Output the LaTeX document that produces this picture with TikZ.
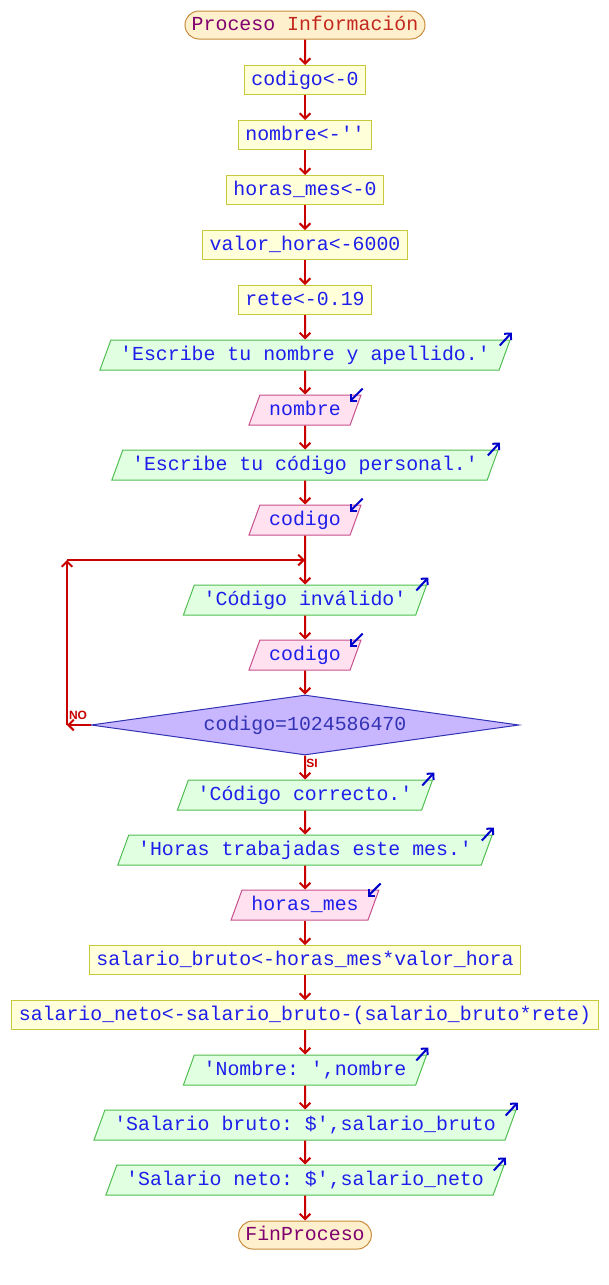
\documentclass[tikz,border=0pt]{standalone}
\usepackage{fontspec}
\setmonofont{Liberation Mono}
\setsansfont{Liberation Sans}
\usetikzlibrary{shapes.geometric,shapes.misc,arrows.meta}
\definecolor{txt}{RGB}{30,30,235}
\definecolor{flecha}{RGB}{200,0,0}
\definecolor{marcab}{RGB}{0,0,205}
\definecolor{procf}{RGB}{255,255,218}
\definecolor{procb}{RGB}{200,200,60}
\definecolor{outf}{RGB}{225,255,225}
\definecolor{outb}{RGB}{80,190,80}
\definecolor{inf}{RGB}{255,225,240}
\definecolor{inb}{RGB}{200,80,140}
\definecolor{decf}{RGB}{200,182,255}
\definecolor{decb}{RGB}{50,50,180}
\definecolor{termf}{RGB}{255,240,205}
\definecolor{termb}{RGB}{200,140,60}
\definecolor{morado}{RGB}{128,0,110}
\definecolor{rojizo}{RGB}{195,40,30}
\begin{document}
\begin{tikzpicture}[x=0.75pt, y=-0.75pt,
  every node/.style={font=\ttfamily\fontsize{14.9}{16}\selectfont, text=txt, text height=10.5pt, text depth=2pt},
  proc/.style={rectangle, draw=procb, fill=procf, line width=0.75pt, minimum height=21.75pt, inner xsep=5.25pt, inner ysep=0pt},
  salida/.style={trapezium, trapezium left angle=70, trapezium right angle=110, draw=outb, fill=outf, line width=0.75pt, inner xsep=7pt, inner ysep=5pt},
  entrada/.style={trapezium, trapezium left angle=70, trapezium right angle=110, draw=inb, fill=inf, line width=0.75pt, inner xsep=7pt, inner ysep=5pt},
  decision/.style={diamond, aspect=7, draw=decb, fill=decf, line width=0.75pt, minimum width=321pt, minimum height=45pt, inner sep=0pt, text=decb},
  term/.style={rounded rectangle, draw=termb, fill=termf, line width=0.75pt, minimum height=21pt, inner xsep=3pt, inner ysep=0pt, text=morado},
  flujo/.style={draw=flecha, line width=1.5pt, -{Straight Barb[length=4pt, width=8pt]}},
  marca/.style={draw=marcab, line width=1.5pt, -{Straight Barb[length=3.5pt, width=7pt]}},
  rama/.style={font=\sffamily\bfseries\fontsize{9}{9}\selectfont, text=flecha, inner sep=0pt, text height=, text depth=}]
  \fill[white] (0,0) rectangle (608,1285);
  \useasboundingbox (0,0) rectangle (608,1285);
  \node[term] (ini) at (305,25) {Proceso \textcolor{rojizo}{Información}};
  \node[proc] (cod0) at (305,80) {codigo<-0};
  \node[proc] (nom0) at (305,135) {nombre<-''};
  \node[proc] (hor0) at (305,190) {horas\_mes<-0};
  \node[proc] (val0) at (305,245) {valor\_hora<-6000};
  \node[proc] (ret0) at (305,300) {rete<-0.19};
  \node[salida] (msg1) at (305,355) {'Escribe tu nombre y apellido.'};
  \node[entrada] (inNom) at (305,410) {nombre};
  \node[salida] (msg2) at (305,465) {'Escribe tu código personal.'};
  \node[entrada] (inCod1) at (305,520) {codigo};
  \node[salida] (msgInv) at (305,600) {'Código inválido'};
  \node[entrada] (inCod2) at (305,655) {codigo};
  \node[decision] (cond) at (305,725) {codigo=1024586470};
  \node[salida] (msgOk) at (305,795) {'Código correcto.'};
  \node[salida] (msg3) at (305,850) {'Horas trabajadas este mes.'};
  \node[entrada] (inHor) at (305,905) {horas\_mes};
  \node[proc] (calcB) at (305,960) {salario\_bruto<-horas\_mes*valor\_hora};
  \node[proc] (calcN) at (305,1015) {salario\_neto<-salario\_bruto-(salario\_bruto*rete)};
  \node[salida] (outNom) at (305,1070) {'Nombre: ',nombre};
  \node[salida] (outB) at (305,1125) {'Salario bruto: \$',salario\_bruto};
  \node[salida] (outN) at (305,1180) {'Salario neto: \$',salario\_neto};
  \node[term] (fin) at (305,1235) {FinProceso};
  \coordinate (junta) at (305,560);
  \coordinate (esqA) at (67,725);
  \coordinate (esqB) at (67,560);
  \node[rama] (no) at (78,715) {NO};
  \node[rama] (si) at (312,763) {SI};
  \draw[flujo] (ini) -- (cod0);
  \draw[flujo] (cod0) -- (nom0);
  \draw[flujo] (nom0) -- (hor0);
  \draw[flujo] (hor0) -- (val0);
  \draw[flujo] (val0) -- (ret0);
  \draw[flujo] (ret0) -- (msg1);
  \draw[flujo] (msg1) -- (inNom);
  \draw[flujo] (inNom) -- (msg2);
  \draw[flujo] (msg2) -- (inCod1);
  \draw[flujo] (inCod1.south) -- (msgInv.north);
  \draw[flujo] (msgInv) -- (inCod2);
  \draw[flujo] (inCod2) -- (cond.north);
  \draw[flujo] (cond.west) -- (esqA);
  \draw[flujo] (esqA) -- (esqB);
  \draw[flujo] (esqB) -- (junta);
  \draw[flujo] (cond.south) -- (msgOk);
  \draw[flujo] (msgOk) -- (msg3);
  \draw[flujo] (msg3) -- (inHor);
  \draw[flujo] (inHor) -- (calcB);
  \draw[flujo] (calcB) -- (calcN);
  \draw[flujo] (calcN) -- (outNom);
  \draw[flujo] (outNom) -- (outB);
  \draw[flujo] (outB) -- (outN);
  \draw[flujo] (outN) -- (fin);
  \foreach \s in {msg1,msg2,msgInv,msgOk,msg3,outNom,outB,outN}
    \draw[marca] ([shift={(-11,6)}]\s.top right corner) -- ++(12,-13);
  \foreach \e in {inNom,inCod1,inCod2,inHor}
    \draw[marca] ([shift={(1,-6)}]\e.top right corner) -- ++(-13,13);
\end{tikzpicture}
\end{document}
